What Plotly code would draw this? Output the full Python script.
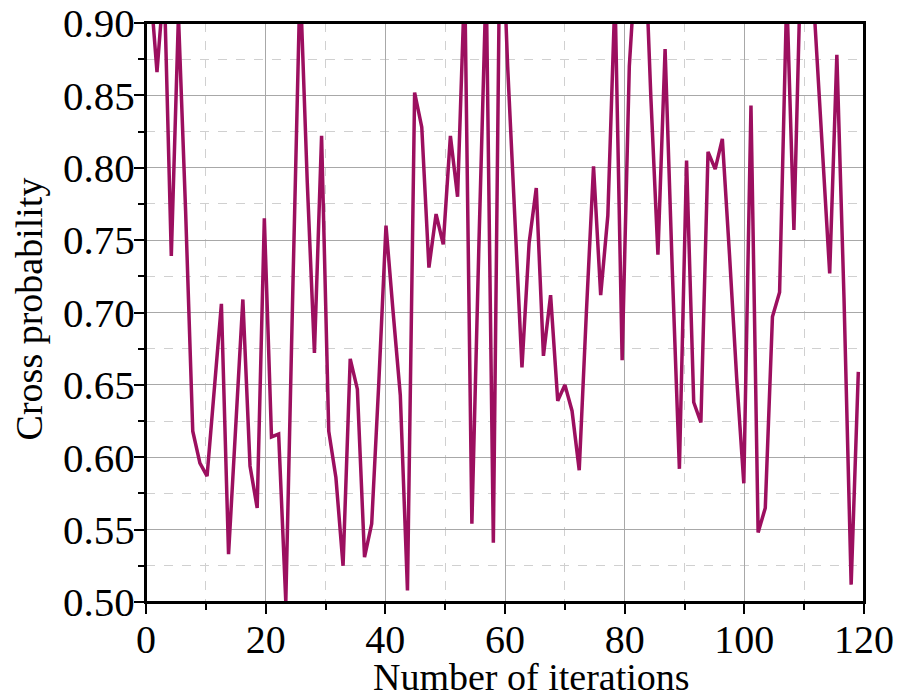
import numpy as np
import plotly.graph_objects as go

# iteration positions (100 evenly spaced samples across the run)
iterations = list(np.round(np.linspace(0.64, 119.05, 100), 3))

cross_probability = [
    0.930, 0.866, 0.930, 0.739, 0.905, 0.770, 0.618, 0.596, 0.587, 0.646,
    0.706, 0.533, 0.620, 0.709, 0.594, 0.565, 0.765, 0.614, 0.616, 0.500,
    0.720, 0.930, 0.790, 0.672, 0.822, 0.618, 0.586, 0.525, 0.668, 0.647,
    0.531, 0.554, 0.652, 0.760, 0.700, 0.643, 0.508, 0.852, 0.828, 0.731,
    0.768, 0.747, 0.822, 0.780, 0.930, 0.554, 0.750, 0.930, 0.541, 1.000,
    0.870, 0.770, 0.662, 0.748, 0.786, 0.670, 0.712, 0.639, 0.650, 0.632,
    0.591, 0.700, 0.801, 0.712, 0.767, 0.920, 0.667, 0.870, 0.950, 0.980,
    0.850, 0.740, 0.882, 0.730, 0.592, 0.805, 0.638, 0.624, 0.811, 0.799,
    0.820, 0.740, 0.655, 0.582, 0.843, 0.548, 0.565, 0.697, 0.714, 0.920,
    0.757, 0.950, 0.980, 0.895, 0.8125, 0.727, 0.878, 0.710, 0.512, 0.659,
]

x_ticks = [0, 20, 40, 60, 80, 100, 120]
y_ticks = [0.50, 0.55, 0.60, 0.65, 0.70, 0.75, 0.80, 0.85, 0.90]
y_tick_text = ["0.50", "0.55", "0.60", "0.65", "0.70", "0.75", "0.80", "0.85", "0.90"]

LINE = "#9c0f5f"
FONT = "Liberation Serif, Times New Roman, serif"

fig = go.Figure()
fig.add_trace(go.Scatter(
    x=iterations, y=cross_probability, mode="lines",
    line=dict(color=LINE, width=3.5), hoverinfo="skip",
))

axis_common = dict(
    showline=True, linecolor="black", linewidth=2, mirror=True,
    ticks="outside", ticklen=10, tickwidth=2, tickcolor="black",
    showgrid=True, gridcolor="#a8a8a8", gridwidth=1,
    zeroline=False, automargin=False,
)

fig.update_xaxes(
    range=[0, 120], tickvals=x_ticks, ticktext=[str(v) for v in x_ticks],
    tickfont=dict(family=FONT, size=40, color="black"),
    minor=dict(dtick=10, tick0=0, ticks="outside", ticklen=6, tickwidth=2,
               tickcolor="black", showgrid=True, gridcolor="#d0d0d0",
               griddash="dash", gridwidth=1),
    **axis_common,
)
fig.update_yaxes(
    range=[0.5, 0.9], tickvals=y_ticks, ticktext=y_tick_text,
    tickfont=dict(family=FONT, size=41, color="black"),
    minor=dict(dtick=0.025, tick0=0.5, ticks="outside", ticklen=6, tickwidth=2,
               tickcolor="black", showgrid=True, gridcolor="#d0d0d0",
               griddash="dash", gridwidth=1),
    **axis_common,
)
try:
    fig.update_xaxes(ticklabelstandoff=-9)
    fig.update_yaxes(ticklabelstandoff=-9)
except Exception:
    pass

fig.update_layout(
    width=898, height=697,
    margin=dict(l=146, r=34, t=23, b=95),
    plot_bgcolor="white", paper_bgcolor="white",
    font=dict(family=FONT, size=38, color="black"),
    showlegend=False,
    shapes=[
        dict(type="rect", xref="paper", yref="paper", x0=0, y0=0, x1=1, y1=1,
             line=dict(color="black", width=2), fillcolor="rgba(0,0,0,0)",
             layer="above"),
    ],
    annotations=[
        dict(text="Number of iterations", xref="paper", yref="paper",
             x=0.5376, y=-0.1295, xanchor="center", yanchor="middle",
             showarrow=False, font=dict(family=FONT, size=38, color="black")),
        dict(text="Cross probability", xref="paper", yref="paper",
             x=-0.163, y=0.507, xanchor="center", yanchor="middle",
             textangle=-90, showarrow=False,
             font=dict(family=FONT, size=38, color="black")),
    ],
)

# remove the browser's default page margin so the figure fills the window
fig.write_html(
    "out.html",
    config={"displayModeBar": False},
    post_script="document.body.style.margin='0';document.body.style.overflow='hidden';",
)
